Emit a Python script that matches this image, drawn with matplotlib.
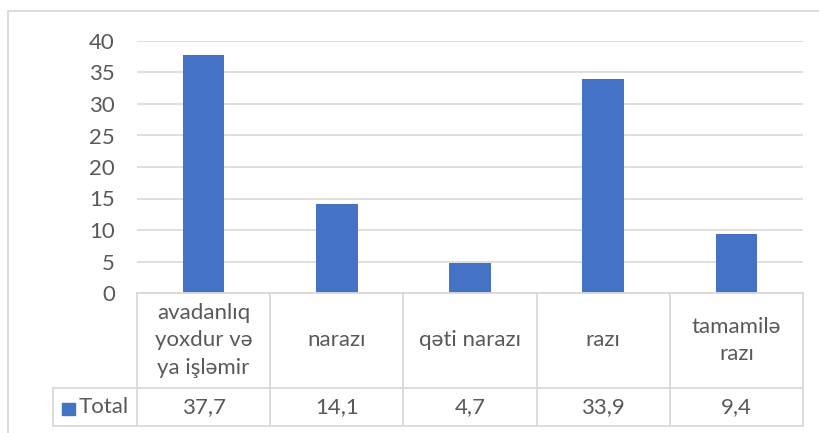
import matplotlib
matplotlib.use("Agg")
import matplotlib.pyplot as plt
from matplotlib.lines import Line2D
from matplotlib.patches import Rectangle

categories = ["avadanlıq\nyoxdur və\nya işləmir", "narazı", "qəti narazı", "razı", "tamamilə\nrazı"]
values = [37.7, 14.1, 4.7, 33.9, 9.4]
series_name = "Total"
yticks = [0, 5, 10, 15, 20, 25, 30, 35, 40]

W, H = 820, 433
BAR = "#4472C4"
GRID = "#D9D9D9"
TXT = "#595959"
FONT = ["Lato", "DejaVu Sans"]
FS = 16

plt.rcParams['font.family'] = FONT

fig = plt.figure(figsize=(W / 100, H / 100), dpi=100)

def fx(px):
    return px / W

def fy(py):
    return 1 - py / H

# plot area
x0, x1, ytop, ybot = 137, 803, 41, 293
ax = fig.add_axes([fx(x0), fy(ybot), fx(x1) - fx(x0), fy(ytop) - fy(ybot)])
n = len(categories)
ax.bar(range(n), values, width=1 / 3.19, color=BAR, zorder=3)
ax.set_xlim(-0.5, n - 0.5)
ax.set_ylim(0, 40)
ax.set_yticks(yticks)
ax.set_yticklabels([str(t) for t in yticks], fontsize=FS, color=TXT)
ax.tick_params(axis='y', length=0, pad=16)
ax.set_xticks([])
ax.grid(axis='y', color=GRID, linewidth=1.2, zorder=0)
for s in ax.spines.values():
    s.set_visible(False)

def line(xs, ys, color=GRID, lw=1.3):
    fig.add_artist(Line2D([fx(x) for x in xs], [fy(y) for y in ys],
                          transform=fig.transFigure, color=color, linewidth=lw))

# outer chart border (clipped)
line([8, 8], [11, 433])
line([8, 820], [11, 11])

# data table
row1_top, row1_bot, row2_bot = 293, 388, 426
colw = (x1 - x0) / n
line([x0, x1], [row1_top, row1_top])
line([53, x1], [row1_bot, row1_bot])
line([53, x1], [row2_bot, row2_bot])
line([53, 53], [row1_bot, row2_bot])
for i in range(n + 1):
    xx = x0 + i * colw
    line([xx, xx], [row1_top, row2_bot])

for i, (c, v) in enumerate(zip(categories, values)):
    cx = x0 + (i + 0.5) * colw
    fig.text(fx(cx), fy((row1_top + row1_bot) / 2), c, ha='center', va='center',
             fontsize=FS, color=TXT, linespacing=1.45)
    fig.text(fx(cx), fy((row1_bot + row2_bot) / 2), f"{v:.1f}".replace('.', ','),
             ha='center', va='center', fontsize=FS, color=TXT)

# legend key
fig.add_artist(Rectangle((fx(62), fy(415)), fx(75) - fx(62), fy(403) - fy(415),
                         transform=fig.transFigure, color=BAR))
fig.text(fx(79), fy((row1_bot + row2_bot) / 2), series_name, ha='left', va='center',
         fontsize=FS, color=TXT)

fig.savefig("out.png", dpi=100)
